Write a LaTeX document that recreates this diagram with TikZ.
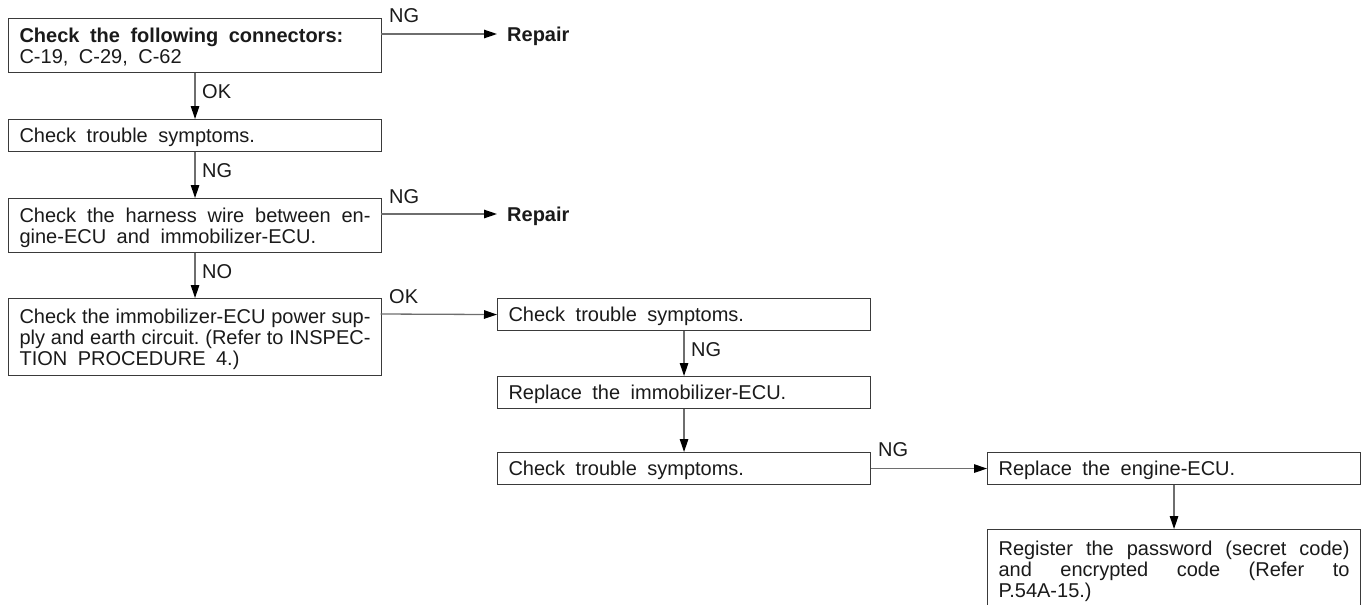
\documentclass[tikz,border=0pt]{standalone}
\usepackage{fontspec}
\setmainfont{Liberation Sans}
\usetikzlibrary{arrows.meta}
\definecolor{boxc}{HTML}{3A3A3A}
\definecolor{linec}{HTML}{6E6E6E}
\definecolor{txtc}{HTML}{1A1A1A}
\newcommand\jline[1]{\makebox[351pt][s]{#1}}
\newcommand\wordsp{\frenchspacing\spaceskip=10.5pt plus 8pt minus 5.5pt\relax\xspaceskip=\spaceskip}
\begin{document}
\begin{tikzpicture}[x=1pt,y=-1pt,
  txt/.style={font=\fontsize{20}{21}\selectfont, text=txtc},
  box/.style={txt, draw=boxc, line width=1.1pt, anchor=north west, inner xsep=11pt, inner ysep=0pt,
    text width=351pt, align=left, text height=14pt, minimum width=373pt,
    execute at begin node=\wordsp},
  oneline/.style={box, text depth=0pt, minimum height=32pt},
  twoline/.style={box, text depth=21pt, minimum height=54pt},
  threeline/.style={box, text depth=42pt, minimum height=77pt},
  lbl/.style={txt, anchor=base west, inner sep=0pt},
  res/.style={font=\fontsize{20}{21}\selectfont\bfseries, text=txtc, anchor=west, inner xsep=10pt,
    inner ysep=0pt, text height=14pt, text depth=0pt},
  arr/.style={draw=linec, line width=1.3pt, -{Triangle[length=13pt,width=8.5pt,color=black]}}
]
\useasboundingbox (0,0) rectangle (1366,605);

\node[twoline] (b1) at (8,18) {\textbf{Check the following connectors:}\\C-19, C-29, C-62};
\node[oneline] (b2) at (8,119) {Check trouble symptoms.};
\node[twoline] (b3) at (8,198) {\jline{Check the harness wire between en-}\\gine-ECU and immobilizer-ECU.};
\node[threeline] (b4) at (8,298) {\jline{Check the immobilizer-ECU power sup-}\\\jline{ply and earth circuit. (Refer to INSPEC-}\\TION PROCEDURE 4.)};
\node[oneline] (b5) at (497,298) {Check trouble symptoms.};
\node[oneline] (b6) at (497,376) {Replace the immobilizer-ECU.};
\node[oneline] (b7) at (497,452) {Check trouble symptoms.};
\node[oneline] (b8) at (987,452) {Replace the engine-ECU.};
\node[threeline, minimum height=80pt] (b9) at (987,529) {\jline{Register the password (secret code)}\\\jline{and encrypted code (Refer to}\\P.54A-15.)};

\node[res] (r1) at (497,34) {Repair};
\node[res] (r2) at (497,214) {Repair};

\coordinate (s1) at (380.5,34);
\coordinate (s3) at (380.5,214);
\coordinate (s4) at (380.5,314);

\draw[arr] (s1) -- (r1.west);
\draw[arr] (b1.south) -- (b2.north);
\draw[arr] (b2.south) -- (b3.north);
\draw[arr] (s3) -- (r2.west);
\draw[arr] (b3.south) -- (b4.north);
\draw[arr] (s4) -- (b5.west);
\draw[arr] (b5.south) -- (b6.north);
\draw[arr] (b6.south) -- (b7.north);
\draw[arr] (b7.east) -- (b8.west);
\draw[arr] (b8.south) -- (b9.north);

\node[lbl] (l1) at (389,23) {NG};
\node[lbl] (l2) at (202,98) {OK};
\node[lbl] (l3) at (202,177) {NG};
\node[lbl] (l4) at (389,203) {NG};
\node[lbl] (l5) at (202,278) {NO};
\node[lbl] (l6) at (389,303) {OK};
\node[lbl] (l7) at (691,356) {NG};
\node[lbl] (l8) at (878,456) {NG};
\end{tikzpicture}
\end{document}
